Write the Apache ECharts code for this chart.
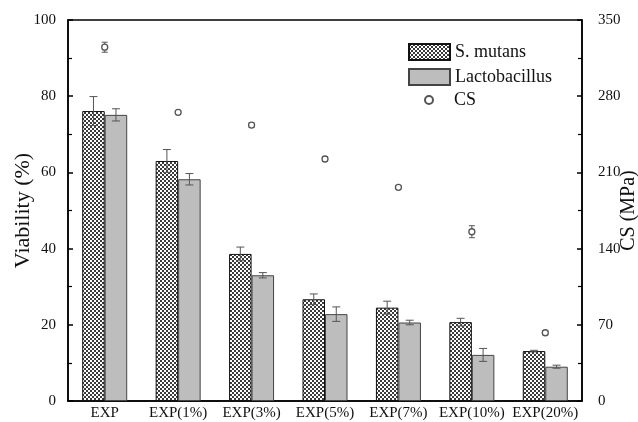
<!DOCTYPE html>
<html>
<head>
<meta charset="utf-8">
<script src="https://cdn.jsdelivr.net/npm/echarts@6/dist/echarts.min.js"></script>
<style>html,body{margin:0;padding:0;background:#fff}#c{width:638px;height:422px}</style>
</head>
<body>
<div id="c"></div>
<script>
const categories = ['EXP','EXP(1%)','EXP(3%)','EXP(5%)','EXP(7%)','EXP(10%)','EXP(20%)'];
const smutans = [76.1, 63.0, 38.6, 26.7, 24.5, 20.7, 13.1];
const smutansErr = [3.8, 3.0, 1.8, 1.4, 1.7, 1.0, 0.2];
const lacto = [75.1, 58.2, 33.0, 22.8, 20.6, 12.1, 9.0];
const lactoErr = [1.6, 1.5, 0.7, 1.9, 0.6, 1.7, 0.4];
const cs = [325, 265.2, 253.5, 222.3, 196.3, 155.5, 62.7];
const csErr = [4.6, 1.0, 2.0, 2.0, 1.5, 5.5, 2.0];
const leftTicks = [0, 20, 40, 60, 80, 100];
const rightTicks = [0, 70, 140, 210, 280, 350];

const FONT = 'Liberation Serif';
const BAR_W = 22.5;

// checker pattern
const pc = document.createElement('canvas');
pc.width = 4; pc.height = 4;
const g = pc.getContext('2d');
g.fillStyle = '#fff'; g.fillRect(0,0,4,4);
g.fillStyle = '#3a3a3a'; g.fillRect(0,0,2,2); g.fillRect(2,2,2,2);

function errSeries(name, vals, errs, offset, yIdx, cap) {
  return {
    type: 'custom', name: name + '_err', yAxisIndex: yIdx, z: 5, silent: true,
    data: vals.map((v, i) => [i, v, errs[i]]),
    renderItem: function (params, api) {
      const i = api.value(0), v = api.value(1), e = api.value(2);
      const t = api.coord([i, v + e]);
      const b = api.coord([i, v - e]);
      const x = t[0] + offset;
      const st = { stroke: '#555', lineWidth: 1, fill: null };
      return { type: 'group', children: [
        { type: 'line', shape: { x1: x, y1: t[1], x2: x, y2: b[1] }, style: st },
        { type: 'line', shape: { x1: x - cap, y1: t[1], x2: x + cap, y2: t[1] }, style: st },
        { type: 'line', shape: { x1: x - cap, y1: b[1], x2: x + cap, y2: b[1] }, style: st }
      ]};
    }
  };
}

const chart = echarts.init(document.getElementById('c'), null, { renderer: 'canvas' });
chart.setOption({
  animation: false,
  backgroundColor: '#fff',
  textStyle: { fontFamily: FONT },
  grid: { left: 68, right: 56, top: 20, bottom: 21, show: true, borderColor: '#000', borderWidth: 1.5,
    containLabel: false, outerBoundsMode: 'none' },
  legend: [
    { data: ['S. mutans', 'Lactobacillus'], orient: 'vertical', left: 408, top: 43, padding: 0, itemWidth: 41, itemHeight: 16, itemGap: 7, icon: 'rect',
      textStyle: { fontFamily: FONT, fontSize: 18, color: '#111' } },
    { data: ['CS'], orient: 'vertical', left: 424, top: 91, padding: 0, itemWidth: 8, itemHeight: 8,
      textStyle: { fontFamily: FONT, fontSize: 18, color: '#111', padding: [0, 0, 0, 16] } }
  ],
  xAxis: {
    type: 'category', data: categories, boundaryGap: true,
    axisLine: { lineStyle: { color: '#000', width: 1.5 } },
    axisTick: { inside: true, length: 5, alignWithLabel: false, lineStyle: { color: '#000', width: 1.5 } },
    axisLabel: { interval: 0, hideOverlap: false, fontFamily: FONT, fontSize: 15, color: '#111', margin: 5 }
  },
  yAxis: [
    { type: 'value', min: 0, max: 100, interval: 20, name: 'Viability (%)', nameLocation: 'middle', nameGap: 34, nameRotate: 90,
      nameMoveOverlap: false,
      nameTextStyle: { fontFamily: FONT, fontSize: 22, color: '#111' },
      axisLine: { show: true, lineStyle: { color: '#000', width: 1.5 } },
      axisTick: { show: true, inside: true, length: 5, lineStyle: { color: '#000', width: 1.5 } },
      minorTick: { show: true, splitNumber: 2, length: 4, lineStyle: { color: '#000', width: 1.2 } },
      splitLine: { show: false },
      axisLabel: { fontFamily: FONT, fontSize: 15, color: '#111', margin: 12,
        formatter: v => leftTicks.includes(v) ? String(v) : '' } },
    { type: 'value', min: 0, max: 350, interval: 70, name: 'CS (MPa)', nameLocation: 'middle', nameGap: 37, nameRotate: 90,
      nameMoveOverlap: false,
      nameTextStyle: { fontFamily: FONT, fontSize: 20, color: '#111' },
      axisLine: { show: true, lineStyle: { color: '#000', width: 1.5 } },
      axisTick: { show: true, inside: true, length: 5, lineStyle: { color: '#000', width: 1.5 } },
      minorTick: { show: true, splitNumber: 2, length: 4, lineStyle: { color: '#000', width: 1.2 } },
      splitLine: { show: false },
      axisLabel: { fontFamily: FONT, fontSize: 15, color: '#111', margin: 16,
        formatter: v => rightTicks.includes(v) ? String(v) : '' } }
  ],
  series: [
    { name: 'S. mutans', type: 'bar', data: smutans, barWidth: BAR_W, barGap: '0%', yAxisIndex: 0,
      itemStyle: { color: { image: pc, repeat: 'repeat' }, borderColor: '#111', borderWidth: 1 } },
    { name: 'Lactobacillus', type: 'bar', data: lacto, barWidth: BAR_W, barGap: '0%', yAxisIndex: 0,
      itemStyle: { color: '#bdbdbd', borderColor: '#444', borderWidth: 1 } },
    errSeries('S. mutans', smutans, smutansErr, -BAR_W / 2, 0, 4),
    errSeries('Lactobacillus', lacto, lactoErr, BAR_W / 2, 0, 4),
    { name: 'CS', type: 'scatter', data: cs, yAxisIndex: 1, symbol: 'circle', symbolSize: 6, z: 6,
      itemStyle: { color: '#fff', borderColor: '#555', borderWidth: 1.3, opacity: 1 } },
    errSeries('CS', cs, csErr, 0, 1, 3)
  ]
});
</script>
</body>
</html>
